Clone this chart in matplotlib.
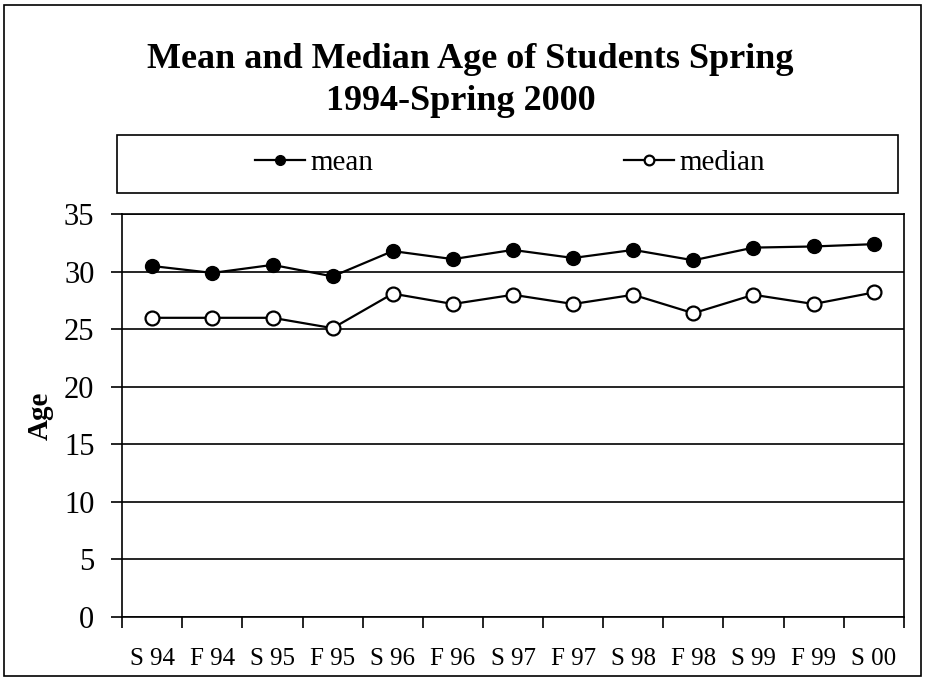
import numpy as np
import matplotlib
matplotlib.use("Agg")
import matplotlib.pyplot as plt
from matplotlib.patches import Rectangle

# data
terms = ["S 94", "F 94", "S 95", "F 95", "S 96", "F 96", "S 97",
         "F 97", "S 98", "F 98", "S 99", "F 99", "S 00"]
mean_age = [30.5, 29.9, 30.6, 29.6, 31.8, 31.1, 31.9,
            31.2, 31.9, 31.0, 32.1, 32.2, 32.4]
median_age = [26.0, 26.0, 26.0, 25.1, 28.1, 27.2, 28.0,
              27.2, 28.0, 26.4, 28.0, 27.2, 28.2]
yticks = [0, 5, 10, 15, 20, 25, 30, 35]

plt.rcParams['font.family'] = ['Liberation Serif', 'DejaVu Serif']

fig = plt.figure(figsize=(9.26, 6.78), dpi=100)
ax = fig.add_axes([0.132, 0.090, 0.844, 0.594])

x = np.arange(len(terms))
l1, = ax.plot(x, mean_age, color='black', lw=1.6, marker='o', ms=10,
              mfc='black', mec='black', label='mean')
l2, = ax.plot(x, median_age, color='black', lw=1.6, marker='o', ms=10,
              mfc='white', mec='black', mew=1.6, label='median')

ax.set_xlim(-0.5, len(terms) - 0.5)
ax.set_ylim(0, 35)
ax.set_yticks(yticks)
ax.set_yticklabels([str(v) for v in yticks], fontsize=22)
ax.yaxis.grid(True, color='black', lw=1.2)
ax.set_axisbelow(True)

# category labels centred, ticks on the bin edges
ax.set_xticks(x)
ax.set_xticklabels(terms, fontsize=18)
ax.tick_params(axis='x', length=0, pad=22)
ax.set_xticks(np.arange(-0.5, len(terms), 1), minor=True)
ax.tick_params(axis='x', which='minor', length=8, width=1.2, direction='out')
ax.tick_params(axis='y', length=8, width=1.2, direction='out', pad=12)
for s in ax.spines.values():
    s.set_linewidth(1.2)

ax.set_ylabel("Age", fontsize=21, fontweight='bold', labelpad=7)

fig.text(0.508, 0.912, "Mean and Median Age of Students Spring",
         ha='center', va='center', fontsize=26, fontweight='bold')
fig.text(0.498, 0.851, "1994-Spring 2000",
         ha='center', va='center', fontsize=26, fontweight='bold')

# legend box
fig.patches.append(Rectangle((0.126, 0.715), 0.844, 0.0855, transform=fig.transFigure,
                             fill=False, ec='black', lw=1.2))
fig.legend(handles=[l1, l2], loc='center', bbox_to_anchor=(0.551, 0.760), ncol=2,
           frameon=False, fontsize=21, columnspacing=8.6, handlelength=1.7,
           handletextpad=0.2, markerscale=0.7)

# outer frame
fig.patches.append(Rectangle((0.004, 0.003), 0.991, 0.990, transform=fig.transFigure,
                             fill=False, ec='black', lw=1.2))

fig.savefig("out.png", dpi=100)
